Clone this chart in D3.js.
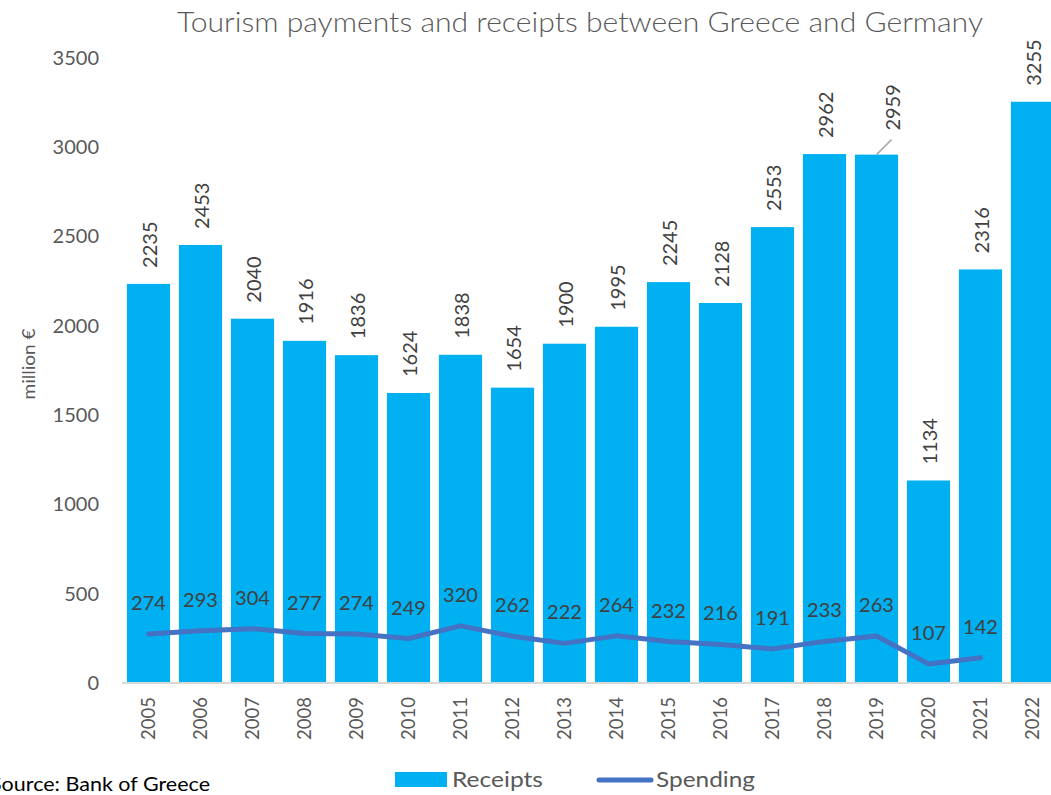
<!DOCTYPE html>
<html><head><meta charset="utf-8">
<script src="https://cdn.jsdelivr.net/npm/d3@7"></script>
<style>
html,body{margin:0;padding:0;background:#fff;overflow:hidden}
svg{display:block;font-family:Lato,"Open Sans",sans-serif}
</style></head><body>
<svg id="c" width="1051" height="795"></svg>
<script>
const years = ["2005","2006","2007","2008","2009","2010","2011","2012","2013","2014","2015","2016","2017","2018","2019","2020","2021","2022"];
const receipts = [2235,2453,2040,1916,1836,1624,1838,1654,1900,1995,2245,2128,2553,2962,2959,1134,2316,3255];
const spending = [274,293,304,277,274,249,320,262,222,264,232,216,191,233,263,107,142,null];
const yTicks = [0,500,1000,1500,2000,2500,3000,3500];
const title = "Tourism payments and receipts between Greece and Germany";
const yTitle = "million €";
const source = "Source: Bank of Greece";
const legendLabels = ["Receipts","Spending"];

const svg = d3.select("#c");
const barColor = "#00B0F0", lineColor = "#4472C4", txt = "#595959", lbl = "#404040";

const x = d3.scaleBand().domain(years).range([122.5,1058.5]).paddingInner(0.17).paddingOuter(0.085);
const y = d3.scaleLinear().domain([0,3500]).range([683,58]);

// title
svg.append("text").attr("x",177).attr("y",32).attr("fill",txt).attr("font-weight",300)
  .attr("font-size",28).attr("textLength",806).attr("lengthAdjust","spacingAndGlyphs").text(title);

// y axis
const ya = svg.append("g").attr("transform","translate(122,0)")
  .call(d3.axisLeft(y).tickValues(yTicks).tickSize(0).tickPadding(23).tickFormat(d3.format("d")));
ya.select(".domain").remove();
ya.selectAll("text").attr("font-size",20).attr("fill",txt).attr("font-family","Lato,'Open Sans',sans-serif");

svg.append("text").attr("transform","translate(35,364) rotate(-90)").attr("text-anchor","middle")
  .attr("font-size",17).attr("fill",txt).attr("textLength",71).attr("lengthAdjust","spacingAndGlyphs").text(yTitle);

// bars
svg.append("g").selectAll("rect").data(years).join("rect")
  .attr("x",d=>x(d)).attr("width",x.bandwidth())
  .attr("y",(d,i)=>y(receipts[i])).attr("height",(d,i)=>y(0)-y(receipts[i]))
  .attr("fill",barColor);

// x axis
const xa = svg.append("g").attr("transform","translate(0,683)").call(d3.axisBottom(x).tickSize(0).tickPadding(0));
xa.select(".domain").attr("stroke","#d9d9d9").attr("stroke-width",2).attr("d","M122,0H1060");
xa.selectAll("text").attr("font-size",18.5).attr("fill",txt).attr("font-family","Lato,'Open Sans',sans-serif")
  .attr("transform","translate(0,14) rotate(-90)").attr("text-anchor","end").attr("dy","0.35em").attr("y",0).attr("x",0);

// bar labels
const lblG = svg.append("g");
years.forEach((d,i)=>{
  let cx = x(d)+x.bandwidth()/2, by = y(receipts[i]) - 16;
  if (d==="2019") {
    const tx = cx+15, ty = y(receipts[i]) - 24;
    lblG.append("line").attr("x1",cx).attr("y1",y(receipts[i])).attr("x2",cx+15).attr("y2",y(receipts[i])-15)
      .attr("stroke","#a6a6a6").attr("stroke-width",1.5);
    cx = tx; by = ty;
  }
  lblG.append("text").attr("transform",`translate(${cx+1},${by}) rotate(-90)`)
    .attr("dy","0.35em").attr("font-size",20).attr("fill",lbl).text(receipts[i]);
});

// line
const pts = years.map((d,i)=>({d,v:spending[i]})).filter(p=>p.v!==null);
svg.append("path").datum(pts)
  .attr("d",d3.line().x(p=>x(p.d)+x.bandwidth()/2).y(p=>y(p.v)))
  .attr("fill","none").attr("stroke",lineColor).attr("stroke-width",5)
  .attr("stroke-linecap","round").attr("stroke-linejoin","round");

svg.append("g").selectAll("text").data(pts).join("text")
  .attr("x",p=>x(p.d)+x.bandwidth()/2).attr("y",p=>y(p.v)-31).attr("dy","0.35em")
  .attr("text-anchor","middle").attr("font-size",20).attr("fill",lbl).text(p=>p.v);

// legend
svg.append("rect").attr("x",395).attr("y",772).attr("width",52).attr("height",15).attr("fill",barColor);
svg.append("text").attr("x",452).attr("y",787).attr("font-size",22).attr("fill",txt)
  .attr("textLength",91).attr("lengthAdjust","spacingAndGlyphs").text(legendLabels[0]);
svg.append("line").attr("x1",599).attr("x2",651).attr("y1",780).attr("y2",780)
  .attr("stroke",lineColor).attr("stroke-width",5).attr("stroke-linecap","round");
svg.append("text").attr("x",656).attr("y",787).attr("font-size",22).attr("fill",txt)
  .attr("textLength",99).attr("lengthAdjust","spacingAndGlyphs").text(legendLabels[1]);

// source
svg.append("text").attr("x",-10).attr("y",791).attr("font-size",20).attr("fill","#000")
  .attr("textLength",220).attr("lengthAdjust","spacingAndGlyphs").text(source);
</script>
</body></html>
